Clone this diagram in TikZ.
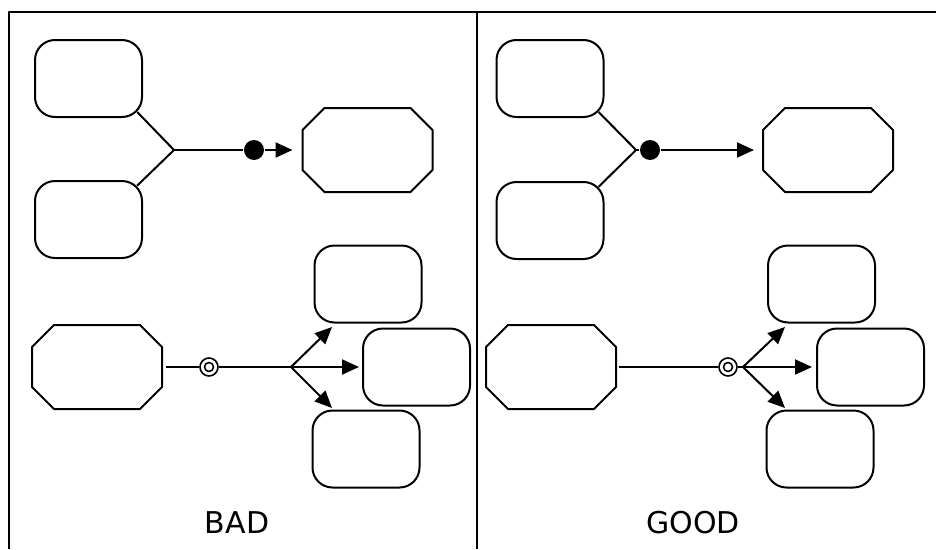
\documentclass[tikz,border=0pt]{standalone}
\usepackage{fontspec}
\setmainfont{DejaVu Sans}
\usetikzlibrary{arrows.meta}

% octagon: an empty named box with its corners cut off
\newcommand\octonode[2]{%
  \node[octo] (#1) at (#2) {};
  \draw ([xshift=22pt]#1.north west) -- ([xshift=-22pt]#1.north east)
    -- ([yshift=-22pt]#1.north east) -- ([yshift=22pt]#1.south east)
    -- ([xshift=-22pt]#1.south east) -- ([xshift=22pt]#1.south west)
    -- ([yshift=22pt]#1.south west) -- ([yshift=-22pt]#1.north west) -- cycle;}

\begin{document}
\begin{tikzpicture}[x=1pt,y=-1pt,line width=2pt,line join=round,
  rbox/.style={draw,rounded corners=20pt,minimum width=107pt,minimum height=77pt,inner sep=0pt},
  octo/.style={minimum width=130pt,minimum height=84pt,inner sep=0pt,outer sep=0pt},
  dot/.style={circle,fill,minimum size=20pt,inner sep=0pt},
  ring/.style={circle,draw,line width=1.6pt,minimum size=18pt,inner sep=0pt},
  tip/.style={-{Triangle[length=17pt,width=15pt]}},
  caption/.style={font=\fontsize{30}{36}\selectfont}]
  \useasboundingbox (0,0) rectangle (936,549);
  % frame
  \draw (9,549) -- (9,12) -- (936,12);
  \draw (477,12) -- (477,549);

  % BAD: join
  \node[rbox] (b1) at (88.5,78.5) {};
  \node[rbox] (b2) at (88.5,219.5) {};
  \octonode{o1}{367.5,150}
  \coordinate (j1) at (174,150);
  \node[dot] (dot1) at (254,150) {};
  \draw[shorten >=-8.3pt] (j1) -- (b1.south east);
  \draw[shorten >=-8.3pt] (j1) -- (b2.north east);
  \draw (j1) -- (dot1);
  \draw[tip,shorten >=10pt] (dot1) -- (o1.west);

  % BAD: fork
  \octonode{o2}{97,367}
  \node[ring] (ring1) at (209,367) {};
  \draw[line width=1.6pt] (ring1.center) circle (4.5);
  \coordinate (f1) at (291,367);
  \node[rbox] (t1) at (368,284) {};
  \node[rbox] (m1) at (416.5,367) {};
  \node[rbox] (u1) at (366,449) {};
  \coordinate (t1in) at (332,327);
  \coordinate (u1in) at (332,408);
  \draw[shorten <=4pt] (o2.east) -- (ring1);
  \draw (ring1) -- (f1);
  \draw[tip] (f1) -- (t1in);
  \draw[tip,shorten >=3pt] (f1) -- (m1.west);
  \draw[tip] (f1) -- (u1in);
  \node[caption] (bad) at (237,523) {BAD};

  % GOOD: join
  \node[rbox] (b3) at (550,78.5) {};
  \node[rbox] (b4) at (550,220.5) {};
  \octonode{o3}{828,150}
  \coordinate (j2) at (636,150);
  \node[dot] (dot2) at (650,150) {};
  \draw[shorten >=-8.3pt] (j2) -- (b3.south east);
  \draw[shorten >=-8.3pt] (j2) -- (b4.north east);
  \draw (j2) -- (dot2);
  \draw[tip,shorten >=9pt] (dot2) -- (o3.west);

  % GOOD: fork
  \octonode{o4}{551,367}
  \node[ring] (ring2) at (728,367) {};
  \draw[line width=1.6pt] (ring2.center) circle (4.5);
  \coordinate (f2) at (743,367);
  \node[rbox] (t2) at (821.5,284) {};
  \node[rbox] (m2) at (870.5,367) {};
  \node[rbox] (u2) at (820,449) {};
  \coordinate (t2in) at (785,327);
  \coordinate (u2in) at (785,408);
  \draw[shorten <=3pt] (o4.east) -- (ring2);
  \draw (ring2) -- (f2);
  \draw[tip] (f2) -- (t2in);
  \draw[tip,shorten >=4pt] (f2) -- (m2.west);
  \draw[tip] (f2) -- (u2in);
  \node[caption] (good) at (693,523) {GOOD};
\end{tikzpicture}
\end{document}
